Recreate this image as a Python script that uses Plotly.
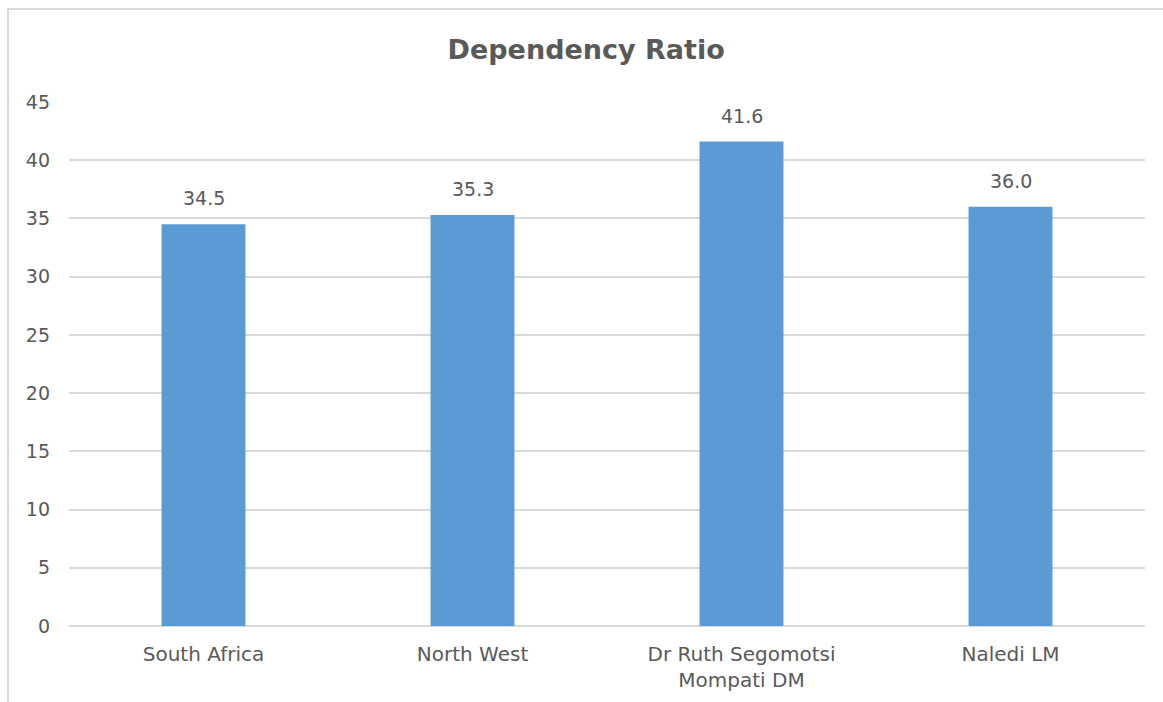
import plotly.graph_objects as go

# Dependency ratio by area
categories = ["South Africa", "North West", "Dr Ruth Segomotsi<br>Mompati DM", "Naledi LM"]
ratios = [34.5, 35.3, 41.6, 36.0]
y_ticks = [0, 5, 10, 15, 20, 25, 30, 35, 40, 45]

W, H = 1163, 702
ML, MR, MT, MB = 69, 18, 102, 76
plot_w = W - ML - MR
plot_h = H - MT - MB

FONT = "DejaVu Sans"
TEXT = "#595959"
GRID = "#d9d9d9"
BAR = "#5b9bd5"

fig = go.Figure(
    go.Bar(
        x=categories,
        y=ratios,
        marker=dict(color=BAR, line=dict(width=0)),
        hoverinfo="skip",
    )
)

# value labels above each bar
for cat, val in zip(categories, ratios):
    fig.add_annotation(
        x=cat, y=val, text=f"{val:.1f}",
        showarrow=False, yanchor="bottom", yshift=13,
        font=dict(family=FONT, size=19, color=TEXT),
    )

# outer chart frame
def px_x(p):
    return (p - ML) / plot_w

def px_y(p):
    return (H - MB - p) / plot_h

fig.add_shape(
    type="rect", xref="paper", yref="paper",
    x0=px_x(8), x1=px_x(1175), y0=px_y(720), y1=px_y(9),
    line=dict(color=GRID, width=2), fillcolor="rgba(0,0,0,0)", layer="below",
)

fig.update_layout(
    width=W, height=H,
    margin=dict(l=ML, r=MR, t=MT, b=MB),
    paper_bgcolor="white", plot_bgcolor="white",
    bargap=0.688,
    showlegend=False,
    title=dict(
        text="<b>Dependency Ratio</b>",
        x=0.504, xref="container", xanchor="center",
        y=1 - 50 / H, yref="container", yanchor="middle",
        font=dict(family=FONT, size=27, color=TEXT),
    ),
    xaxis=dict(
        showgrid=False, showline=False, zeroline=False,
        ticks="", ticklabelstandoff=14, automargin=False,
        tickfont=dict(family=FONT, size=20, color=TEXT),
    ),
    yaxis=dict(
        range=[0, 45], tickvals=y_ticks, automargin=False,
        showgrid=True, gridcolor=GRID, gridwidth=1.5,
        zeroline=True, zerolinecolor=GRID, zerolinewidth=1.5,
        showline=False, ticks="", ticklabelstandoff=18,
        tickfont=dict(family=FONT, size=19, color=TEXT),
    ),
)

fig.write_html("out.html")
